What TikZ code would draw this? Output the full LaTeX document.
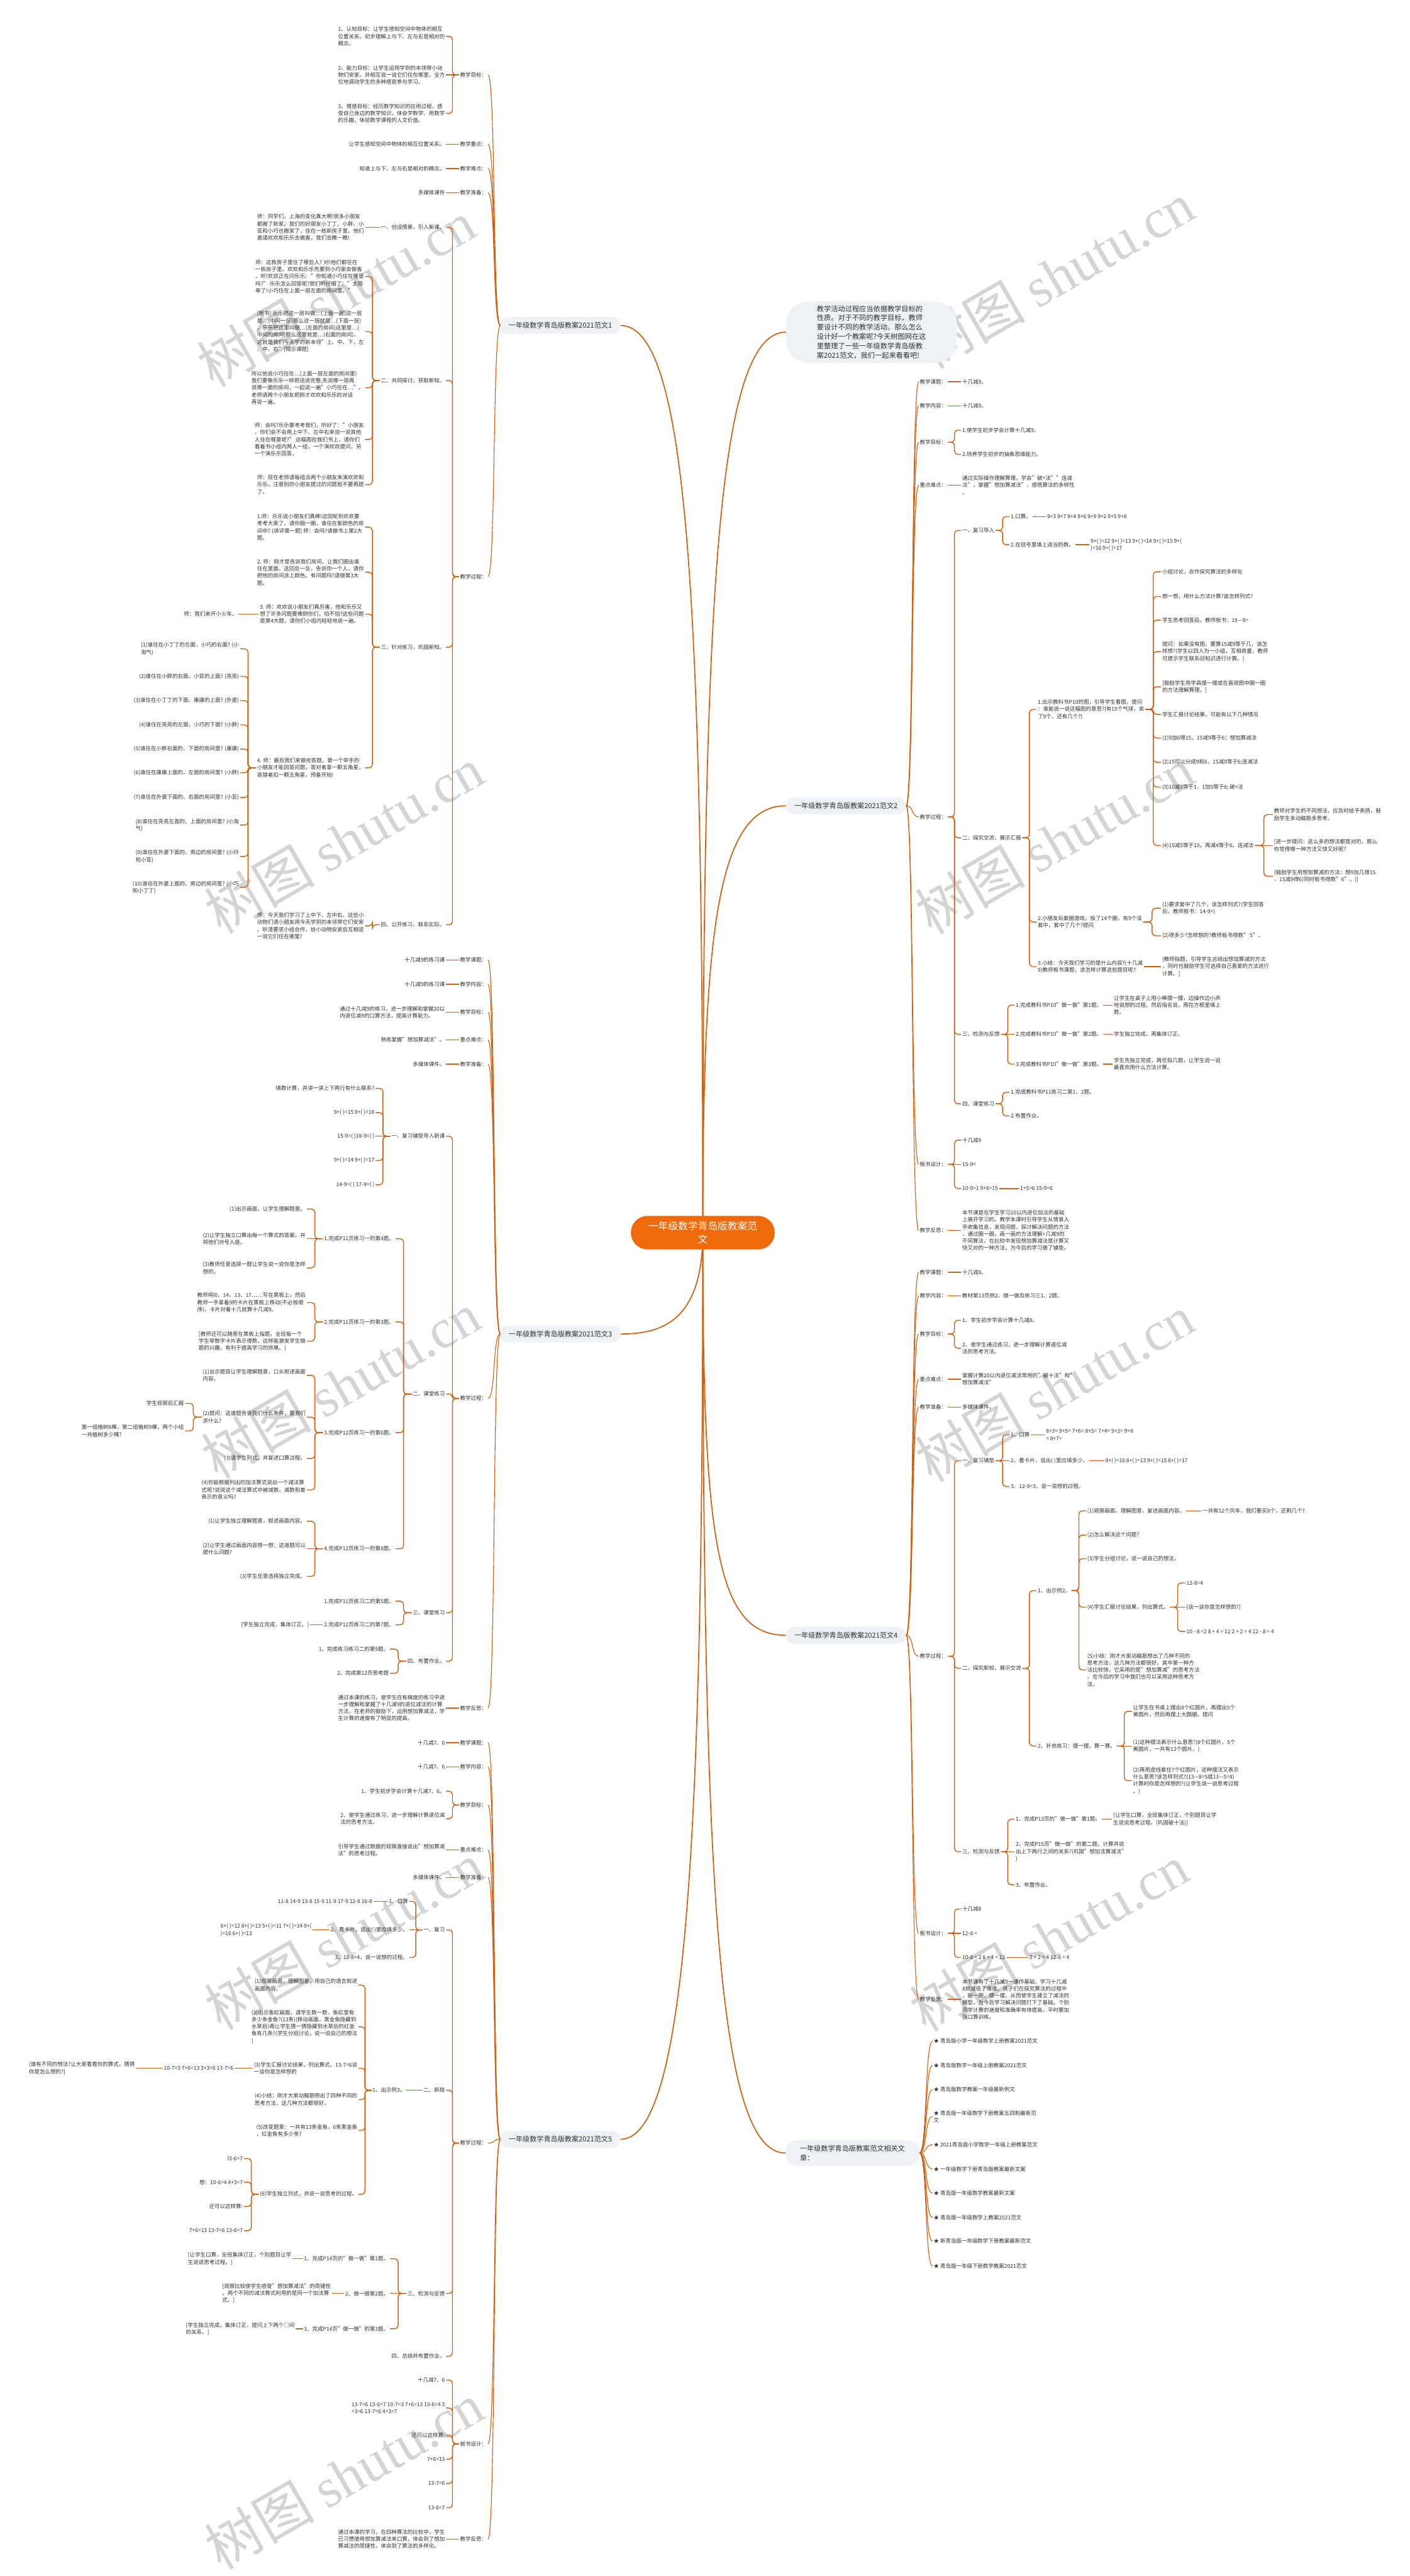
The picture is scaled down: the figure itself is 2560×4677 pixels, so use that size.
\documentclass[tikz,border=0pt]{standalone}
\usepackage{fontspec}
\setmainfont{Noto Sans CJK SC}
\newfontfamily\wmlatin{Liberation Serif}
\usetikzlibrary{calc}
\definecolor{lnk}{RGB}{205,98,20}
\definecolor{rootfill}{RGB}{240,106,12}
\definecolor{pillfill}{RGB}{238,241,245}
\definecolor{txt}{RGB}{48,48,48}
\definecolor{wmgray}{RGB}{212,212,212}

\begin{document}
\begin{tikzpicture}[x=1pt,y=-1pt]
  \def\fs{\fontsize{9.7}{12.9}\selectfont}
  \def\lk#1#2{\draw[br] let \p1=(#1.west),\p2=(#2.east) in (\p1) -- ({(\x1+\x2)/2},\y1) |- (\p2);}
  \def\rk#1#2{\draw[br] let \p1=(#1.east),\p2=(#2.west) in (\p1) -- ({(\x1+\x2)/2},\y1) |- (\p2);}
  \def\ls#1#2{\draw[br] (#1.west) -- (#2.east);}
  \def\rs#1#2{\draw[br] (#1.east) -- (#2.west);}
  \def\lc#1#2{\draw[cv] (#1.west) .. controls +(-14,0) and +(14,0) .. (#2.east);}
  \def\rc#1#2{\draw[cv] (#1.east) .. controls +(14,0) and +(-14,0) .. (#2.west);}

\tikzstyle{lt}=[anchor=east,align=left,inner xsep=2pt,inner ysep=1pt,text=txt,font=\fs]
\tikzstyle{rt}=[anchor=west,align=left,inner xsep=2pt,inner ysep=1pt,text=txt,font=\fs]
\tikzstyle{pill}=[fill=pillfill,rounded corners=15pt,text=txt,font=\fontsize{12.7}{17}\selectfont,minimum width=218pt,minimum height=31pt,inner sep=0pt]
\tikzstyle{br}=[draw=lnk,line width=1.6pt,rounded corners=6pt]
\tikzstyle{cv}=[draw=lnk,line width=1.3pt]
\tikzstyle{trunk}=[draw=lnk,line width=2pt]
\tikzstyle{wm}=[text=wmgray,rotate=30,font=\fontsize{100}{100}\selectfont]

\fill[white] (0,0) rectangle (2560,4677);
\useasboundingbox (0,0) rectangle (2560,4677);

% watermarks
\node[wm] at (610,533) {树图 {\wmlatin shutu.cn}};
\node[wm] at (624,1525) {树图 {\wmlatin shutu.cn}};
\node[wm] at (619,2515) {树图 {\wmlatin shutu.cn}};
\node[wm] at (624,3515) {树图 {\wmlatin shutu.cn}};
\node[wm] at (624,4495) {树图 {\wmlatin shutu.cn}};
\node[wm] at (1915,500) {树图 {\wmlatin shutu.cn}};
\node[wm] at (1915,1526) {树图 {\wmlatin shutu.cn}};
\node[wm] at (1915,2520) {树图 {\wmlatin shutu.cn}};
\node[wm] at (1904,3518) {树图 {\wmlatin shutu.cn}};

% first level
\node[pill] (b1) at (1017.5,591) {一年级数学青岛版教案2021范文1};
\node[pill] (b3) at (1017.5,2422) {一年级数学青岛版教案2021范文3};
\node[pill] (b5) at (1017.5,3884) {一年级数学青岛版教案2021范文5};
\node[pill] (b2) at (1536,1463) {一年级数学青岛版教案2021范文2};
\node[pill] (b4) at (1536,2969) {一年级数学青岛版教案2021范文4};
\node[pill,anchor=west,align=left,minimum width=243pt,minimum height=46pt,rounded corners=22pt] (rel) at (1426,3909) {一年级数学青岛版教案范文相关文\\章：};
\node[fill=pillfill,rounded corners=40pt,anchor=west,align=left,text=txt,font=\fontsize{12.8}{17}\selectfont,inner xsep=56pt,inner ysep=7pt] (intro) at (1427,603) {教学活动过程应当依据教学目标的\\性质。对于不同的教学目标，教师\\要设计不同的教学活动。那么怎么\\设计好一个教案呢?今天树图网在这\\里整理了一些一年级数学青岛版教\\案2021范文，我们一起来看看吧!};

\coordinate (rc) at (1276,2238);
\draw[trunk] (rc) .. controls (1276,1100) and (1250,591) .. (b1.east);
\draw[trunk] (rc) .. controls (1276,2400) and (1200,2422) .. (b3.east);
\draw[trunk] (rc) .. controls (1276,3300) and (1250,3884) .. (b5.east);
\draw[trunk] (rc) .. controls (1276,1100) and (1300,603) .. (intro.west);
\draw[trunk] (rc) .. controls (1276,1700) and (1300,1463) .. (b2.west);
\draw[trunk] (rc) .. controls (1276,2800) and (1300,2969) .. (b4.west);
\draw[trunk] (rc) .. controls (1276,3400) and (1300,3909) .. (rel.west);
\node[fill=rootfill,rounded corners=30pt,text=white,align=center,font=\fontsize{18}{24}\selectfont,minimum width=261pt,minimum height=61pt] (root) at (1276,2238) {一年级数学青岛版教案范\\文};

% ---- 范文1
\node[lt] (b1a) at (886,136) {教学目标：};
\node[lt] (b1b) at (886,262) {教学重点：};
\node[lt] (b1c) at (886,306) {教学难点：};
\node[lt] (b1d) at (886,350) {教学准备：};
\node[lt] (b1e) at (886,1047) {教学过程：};
\lc{b1}{b1a} \lc{b1}{b1b} \lc{b1}{b1c} \lc{b1}{b1d} \lc{b1}{b1e}
\node[lt] (b1a1) at (810,66) {1、认知目标：让学生感知空间中物体的相互\\位置关系。初步理解上与下、左与右是相对的\\概念。};
\node[lt] (b1a2) at (810,136) {2、能力目标：让学生运用学到的本领带小动\\物们安家。并相互说一说它们住在哪里，全方\\位地调动学生的多种感官参与学习。};
\node[lt] (b1a3) at (810,206) {3、情感目标：经历数学知识的应用过程，感\\受自己身边的数学知识，体会学数学、用数学\\的乐趣，体验数学课程的人文价值。};
\lk{b1a}{b1a1} \ls{b1a}{b1a2} \lk{b1a}{b1a3}
\node[lt] (b1b1) at (810,262) {让学生感知空间中物体的相互位置关系。};
\node[lt] (b1c1) at (810,306) {知道上与下、左与右是相对的概念。};
\node[lt] (b1d1) at (810,350) {多媒体课件};
\ls{b1b}{b1b1} \ls{b1c}{b1c1} \ls{b1d}{b1d1}
\node[lt] (b1e1) at (810,413) {一、创设情景，引入新课。};
\node[lt] (b1e2) at (810,691) {二、共同探讨，获取新知。};
\node[lt] (b1e3) at (810,1175) {三、针对练习，巩固新知。};
\node[lt] (b1e4) at (810,1679) {四、公开练习，联系实际。};
\lk{b1e}{b1e1} \lk{b1e}{b1e2} \lk{b1e}{b1e3} \lk{b1e}{b1e4}
\node[lt] (b1e1a) at (663,413) {师：同学们，上海的变化真大啊!很多小朋友\\都搬了新家。我们的好朋友小丁丁、小胖、小\\亚和小巧也搬家了，住在一栋新房子里。他们\\邀请欢欢和乐乐去做客，我们去瞧一瞧!};
\ls{b1e1}{b1e1a}
\node[lt] (b1e2a) at (663,502) {师：这栋房子里住了哪些人? 对!他们都住在\\一栋房子里。欢欢和乐乐先要到小巧家去做客\\。听!欢欢正在问乐乐："你知道小巧住在哪里\\吗?" 乐乐怎么回答呢?我们听仔细了："太简\\单了!小巧住在上面一层左面的房间里。"};
\node[lt] (b1e2b) at (663,602) {[板书] 乐乐把这一层叫做…(上面一层)这一层\\是…(中间一层)那么这一层就是…(下面一层)\\。乐乐把这里叫做…(左面的房间)这里是…(\\中间的房间)那么这里就是…(右面的房间)。\\这就是我们今天学的新本领"上、中、下，左\\、中、右"[揭示课题]};
\node[lt] (b1e2c) at (663,704) {所以他说小巧住在…(上面一层左面的房间里)\\我们要像乐乐一样把话说完整,先说哪一层再\\说哪一面的房间，一起说一遍"小巧住在…"。\\ 老师请两个小朋友把刚才欢欢和乐乐的对话\\再说一遍。};
\node[lt] (b1e2d) at (663,798) {师：会吗?乐乐要考考我们，听好了："小朋友\\，你们会不会用上中下、左中右来说一说其他\\人住在哪里呢?" 这幅图在我们书上，请你们\\看着书小组内两人一组，一个演欢欢提问，另\\一个演乐乐回答。};
\node[lt] (b1e2e) at (663,880) {师：现在老师请每组派两个小朋友来演欢欢和\\乐乐。注意别的小朋友提过的问题就不要再提\\了。};
\lk{b1e2}{b1e2a} \lk{b1e2}{b1e2b} \lk{b1e2}{b1e2c} \lk{b1e2}{b1e2d} \lk{b1e2}{b1e2e}
\node[lt] (b1e3a) at (663,957) {1.师：乐乐说小朋友们真棒!这回轮到欢欢要\\考考大家了。请你圈一圈，谁住在紫颜色的房\\间中? (讲评第一题) 师：会吗?请做书上第2大\\题。};
\node[lt] (b1e3b) at (663,1039) {2. 师：刚才是告诉我们房间，让我们圈出谁\\住在里面。这回反一反，告诉你一个人，请你\\把他的房间涂上颜色。有问题吗?请做第3大\\题。};
\node[lt] (b1e3c) at (663,1115) {3. 师：欢欢说小朋友们真厉害，他和乐乐又\\想了许多问题要难倒你们，怕不怕?这些问题\\是第4大题，请你们小组内轻轻地说一遍。};
\node[lt] (b1e3d) at (663,1394) {4. 师：最后我们来做抢答题。第一个举手的\\小朋友才能回答问题，答对者拿一颗五角星，\\答错者扣一颗五角星，预备开始!};
\lk{b1e3}{b1e3a} \lk{b1e3}{b1e3b} \lk{b1e3}{b1e3c} \lk{b1e3}{b1e3d}
\node[lt] (b1e3c1) at (433,1115) {师：我们来开小火车。};
\ls{b1e3c}{b1e3c1}
\node[lt] (q1) at (436,1178) {(1)谁住在小丁丁的左面，小巧的右面? (小\\淘气)};
\node[lt] (q2) at (436,1228) {(2)谁住在小胖的右面，小亚的上面? (亮亮)};
\node[lt] (q3) at (436,1272) {(3)谁住在小丁丁的下面，康康的上面? (外婆)};
\node[lt] (q4) at (436,1316) {(4)谁住在亮亮的左面，小巧的下面? (小胖)};
\node[lt] (q5) at (436,1360) {(5)谁住在小胖右面的、下面的房间里? (康康)};
\node[lt] (q6) at (436,1403) {(6)谁住在康康上面的、左面的房间里? (小胖)};
\node[lt] (q7) at (436,1448) {(7)谁住在外婆下面的、右面的房间里? (小亚)};
\node[lt] (q8) at (436,1498) {(8)谁住在亮亮左面的、上面的房间里? (小淘\\气)};
\node[lt] (q9) at (436,1555) {(9)谁住在外婆下面的、旁边的房间里? (小玲\\和小亚)};
\node[lt] (q10) at (436,1611) {(10)谁住在外婆上面的、旁边的房间里? (小巧\\和小丁丁)};
\foreach \q in {q1,q2,q3,q4,q5,q6,q7,q8,q9,q10} {\lk{b1e3d}{\q}}
\node[lt] (b1e4a) at (663,1681) {师：今天我们学习了上中下、左中右。这些小\\动物们请小朋友用今天学到的本领带它们安家\\。听清要求小组合作，给小动物安家后互相说\\一说它们住在哪里?};
\lk{b1e4}{b1e4a}

% ---- 范文3
\node[lt] (b3a) at (886,1743) {教学课题：};
\node[lt] (b3b) at (886,1787) {教学内容：};
\node[lt] (b3c) at (886,1838) {教学目标：};
\node[lt] (b3d) at (886,1888) {重点难点：};
\node[lt] (b3e) at (886,1932) {教学准备：};
\node[lt] (b3f) at (886,2539) {教学过程：};
\node[lt] (b3g) at (886,3101) {教学反思：};
\lc{b3}{b3a} \lc{b3}{b3b} \lc{b3}{b3c} \lc{b3}{b3d} \lc{b3}{b3e} \lc{b3}{b3f} \lc{b3}{b3g}
\node[lt] (b3a1) at (810,1743) {十几减9的练习课};
\node[lt] (b3b1) at (810,1787) {十几减9的练习课};
\node[lt] (b3c1) at (810,1838) {通过十几减9的练习，进一步理解和掌握20以\\内退位减9的口算方法，提高计算能力。};
\node[lt] (b3d1) at (810,1888) {熟练掌握"想加算减法"。};
\node[lt] (b3e1) at (810,1932) {多媒体课件。};
\ls{b3a}{b3a1} \ls{b3b}{b3b1} \ls{b3c}{b3c1} \ls{b3d}{b3d1} \ls{b3e}{b3e1}
\node[lt] (b3f1) at (810,2063) {一、复习铺垫导入新课};
\node[lt] (b3f2) at (810,2531) {二、课堂练习};
\node[lt] (b3f3) at (810,2928) {三、课堂练习};
\node[lt] (b3f4) at (810,3016) {四、布置作业。};
\lk{b3f}{b3f1} \lk{b3f}{b3f2} \lk{b3f}{b3f3} \lk{b3f}{b3f4}
\node[lt] (b3g1) at (810,3101) {通过本课的练习，使学生在有梯度的练习中进\\一步理解和掌握了十几减9的退位减法的计算\\方法，在老师的鼓励下，运用想加算减法，学\\生计算的速度有了明显的提高。};
\ls{b3g}{b3g1}
\node[lt] (r1) at (682,1976) {填数计算，并讲一讲上下两行有什么联系?};
\node[lt] (r2) at (682,2020) {9+( )=15 9+( )=18};
\node[lt] (r3) at (682,2063) {15-9=( )18-9=( )};
\node[lt] (r4) at (682,2107) {9+( )=14 9+( )=17};
\node[lt] (r5) at (682,2151) {14-9=( ) 17-9=( )};
\lk{b3f1}{r1} \lk{b3f1}{r2} \ls{b3f1}{r3} \lk{b3f1}{r4} \lk{b3f1}{r5}
\node[lt] (b3f2a) at (718,2249) {1.完成P11页练习一的第4题。};
\node[lt] (b3f2b) at (718,2400) {2.完成P11页练习一的第3题。};
\node[lt] (b3f2c) at (718,2601) {3.完成P12页练习一的第6题。};
\node[lt] (b3f2d) at (718,2812) {4.完成P12页练习一的第8题。};
\lk{b3f2}{b3f2a} \lk{b3f2}{b3f2b} \lk{b3f2}{b3f2c} \lk{b3f2}{b3f2d}
\node[lt] (b3f2a1) at (557,2195) {(1)出示画面，让学生理解题意。};
\node[lt] (b3f2a2) at (557,2249) {(2)让学生独立口算出每一个算式的答案，并\\将他们对号入座。};
\node[lt] (b3f2a3) at (557,2302) {(3)教师任意选择一题让学生说一说你是怎样\\想的。};
\lk{b3f2a}{b3f2a1} \ls{b3f2a}{b3f2a2} \lk{b3f2a}{b3f2a3}
\node[lt] (b3f2b1) at (557,2365) {教师将l0、14、13、17……写在黑板上，然后\\教师一手拿着9的卡片在黑板上移动(不必按顺\\序)，卡片对着十几就算十几减9。};
\node[lt] (b3f2b2) at (557,2435) {[教师还可以随意在黑板上指题，全班每一个\\学生举数字卡片表示得数，这样能激发学生做\\题的兴趣，有利于提高学习的效果。]};
\lk{b3f2b}{b3f2b1} \lk{b3f2b}{b3f2b2}
\node[lt] (b3f2c1) at (557,2497) {(1)出示题目让学生理解题意，口头叙述画面\\内容。};
\node[lt] (b3f2c2) at (557,2573) {(2)提问：这道题告诉我们什么条件，要我们\\求什么?};
\node[lt] (b3f2c3) at (557,2648) {(3)请学生列式，并复述口算过程。};
\node[lt] (b3f2c4) at (557,2705) {(4)你能根据列出的加法算式说出一个减法算\\式呢?说说这个减法算式中被减数、减数和差\\表示的意义吗?};
\lk{b3f2c}{b3f2c1} \lk{b3f2c}{b3f2c2} \lk{b3f2c}{b3f2c3} \lk{b3f2c}{b3f2c4}
\node[lt] (b3f2c2a) at (336,2548) {学生观察后汇报};
\node[lt] (b3f2c2b) at (336,2598) {第一组植树8棵，第二组植树9棵，两个小组\\一共植树多少棵?};
\lk{b3f2c2}{b3f2c2a} \lk{b3f2c2}{b3f2c2b}
\node[lt] (b3f2d1) at (557,2762) {(1)让学生独立理解题意，叙述画面内容。};
\node[lt] (b3f2d2) at (557,2812) {(2)让学生通过画面内容想一想：这道题可以\\提什么问题?};
\node[lt] (b3f2d3) at (557,2862) {(3)学生任意选择独立完成。};
\lk{b3f2d}{b3f2d1} \ls{b3f2d}{b3f2d2} \lk{b3f2d}{b3f2d3}
\node[lt] (b3f3a) at (718,2907) {1.完成P11页练习二的第5题。};
\node[lt] (b3f3b) at (718,2950) {2.完成P12页练习二的第7题。};
\lk{b3f3}{b3f3a} \lk{b3f3}{b3f3b}
\node[lt] (b3f3b1) at (563,2950) {[学生独立完成，集体订正。]};
\ls{b3f3b}{b3f3b1}
\node[lt] (b3f4a) at (708,2994) {1、完成练习练习二的第9题。};
\node[lt] (b3f4b) at (708,3038) {2、完成第12页思考题};
\lk{b3f4}{b3f4a} \lk{b3f4}{b3f4b}

% ---- 范文5
\node[lt] (b5a) at (886,3164) {教学课题：};
\node[lt] (b5b) at (886,3208) {教学内容：};
\node[lt] (b5c) at (886,3277) {教学目标：};
\node[lt] (b5d) at (886,3359) {重点难点：};
\node[lt] (b5e) at (886,3409) {教学准备：};
\node[lt] (b5f) at (886,3891) {教学过程：};
\node[lt] (b5g) at (886,4437) {板书设计：};
\node[lt] (b5h) at (886,4610) {教学反思：};
\lc{b5}{b5a} \lc{b5}{b5b} \lc{b5}{b5c} \lc{b5}{b5d} \lc{b5}{b5e} \lc{b5}{b5f} \lc{b5}{b5g} \lc{b5}{b5h}
\node[lt] (b5a1) at (810,3164) {十几减7、6};
\node[lt] (b5b1) at (810,3208) {十几减7、6};
\node[lt] (b5c1) at (810,3252) {1、学生初步学会计算十几减7、6。};
\node[lt] (b5c2) at (810,3302) {2、使学生通过练习，进一步理解计算退位减\\法的思考方法。};
\node[lt] (b5d1) at (810,3359) {引导学生通过数据的观察直接说出"想加算减\\法"的思考过程。};
\node[lt] (b5e1) at (810,3409) {多媒体课件。};
\ls{b5a}{b5a1} \ls{b5b}{b5b1} \lk{b5c}{b5c1} \lk{b5c}{b5c2} \ls{b5d}{b5d1} \ls{b5e}{b5e1}
\node[lt] (b5f1) at (810,3504) {一、复习};
\node[lt] (b5f2) at (810,3795) {二、新授};
\node[lt] (b5f3) at (810,4164) {三、检测与反馈};
\node[lt] (b5f4) at (810,4278) {四、总结并布置作业。};
\lk{b5f}{b5f1} \lk{b5f}{b5f2} \lk{b5f}{b5f3} \lk{b5f}{b5f4}
\node[lt] (b5f1a) at (743,3452) {1、口算};
\node[lt] (b5f1b) at (743,3504) {2、看卡片，说出( )里应填多少。};
\node[lt] (b5f1c) at (743,3554) {3、12-8=4，说一说想的过程。};
\lk{b5f1}{b5f1a} \ls{b5f1}{b5f1b} \lk{b5f1}{b5f1c}
\node[lt] (b5f1a1) at (678,3452) {11-8 14-9 13-8 15-9 11-9 17-9 12-8 16-8};
\node[lt] (b5f1b1) at (568,3504) {6+( )=12 8+( )=13 5+( )=11 7+( )=14 9+(\\)=16 6+( )=13};
\ls{b5f1a}{b5f1a1} \ls{b5f1b}{b5f1b1}
\node[lt] (b5f2a) at (738,3795) {1、出示例3。};
\ls{b5f2}{b5f2a}
\node[lt] (s1) at (651,3604) {(1)观察画面，理解图意，用自己的语言叙述\\画面内容。};
\node[lt] (s2) at (651,3680) {(2)出示鱼缸画面，请学生数一数，鱼缸里有\\多少条金鱼?(13条)(移动画面，黑金鱼隐藏到\\水草后)再让学生猜一猜隐藏到水草后的红金\\鱼有几条?(学生分组讨论，说一说自己的想法\\)};
\node[lt] (s3) at (651,3755) {(3)学生汇报讨论结果，列出算式。13-7=6谈\\一谈你是怎样想的};
\node[lt] (s4) at (651,3812) {(4)小结：刚才大家动脑筋想出了四种不同的\\思考方法，这几种方法都很好。};
\node[lt] (s5) at (651,3868) {(5)改变题意：一共有13条金鱼，6条黑金鱼\\，红金鱼有多少条?};
\node[lt] (s6) at (651,3984) {(6)学生独立列式，并说一说思考的过程。};
\foreach \s in {s1,s2,s3,s4,s5,s6} {\lk{b5f2a}{\s}}
\node[lt] (s3a) at (426,3755) {10-7=3 7+6=13 3+3=6 13-7=6};
\node[lt] (s3b) at (247,3755) {[谁有不同的想法?让大家看看你的算式，猜猜\\你是怎么想的?]};
\ls{s3}{s3a} \ls{s3a}{s3b}
\node[lt] (s6a) at (443,3919) {l3-6=7};
\node[lt] (s6b) at (443,3962) {想：10-6=4 4+3=7};
\node[lt] (s6c) at (443,4006) {还可以这样算:};
\node[lt] (s6d) at (443,4050) {7+6=13 13-7=6 13-6=7};
\lk{s6}{s6a} \lk{s6}{s6b} \lk{s6}{s6c} \lk{s6}{s6d}
\node[lt] (b5f3a) at (708,4101) {1、完成P14页的"做一做"第1题。};
\node[lt] (b5f3b) at (708,4164) {2、做一做第2题。};
\node[lt] (b5f3c) at (708,4228) {3、完成P14页"做一做"的第3题。};
\lk{b5f3}{b5f3a} \ls{b5f3}{b5f3b} \lk{b5f3}{b5f3c}
\node[lt] (b5f3a1) at (531,4101) {[让学生口算，全班集体订正，个别题目让学\\生说说思考过程。]};
\node[lt] (b5f3b1) at (603,4164) {[观察比较使学生感受"想加算减法"的简捷性\\。两个不同的减法算式利用的是同一个加法算\\式。]};
\node[lt] (b5f3c1) at (537,4228) {[学生独立完成，集体订正，提问上下两个□间\\的关系。]};
\ls{b5f3a}{b5f3a1} \ls{b5f3b}{b5f3b1} \ls{b5f3c}{b5f3c1}
\node[lt] (b5g1) at (810,4321) {十几减7、6};
\node[lt] (b5g2) at (810,4372) {13-7=6 13-6=7 10-7=3 7+6=13 10-6=4 3\\+3=6 13-7=6 4+3=7};
\node[lt] (b5g3) at (810,4422) {还可以这样算:};
\node[lt] (b5g4) at (810,4465) {7+6=13};
\node[lt] (b5g5) at (810,4509) {13-7=6};
\node[lt] (b5g6) at (810,4553) {13-6=7};
\foreach \g in {b5g1,b5g2,b5g3,b5g4,b5g5,b5g6} {\lk{b5g}{\g}}
\node[lt] (b5h1) at (810,4610) {通过本课的学习，在四种算法的比较中，学生\\已习惯使用想加算减法来口算，体会到了想加\\算减法的简捷性，体会到了算法的多样化。};
\ls{b5h}{b5h1}

% ---- 范文2
\node[rt] (b2a) at (1668,693) {教学课题：};
\node[rt] (b2b) at (1668,737) {教学内容：};
\node[rt] (b2c) at (1668,803) {教学目标：};
\node[rt] (b2d) at (1668,881) {重点难点：};
\node[rt] (b2e) at (1668,1483) {教学过程：};
\node[rt] (b2f) at (1668,2114) {板书设计：};
\node[rt] (b2g) at (1668,2234) {教学反思：};
\rc{b2}{b2a} \rc{b2}{b2b} \rc{b2}{b2c} \rc{b2}{b2d} \rc{b2}{b2e} \rc{b2}{b2f} \rc{b2}{b2g}
\node[rt] (b2a1) at (1745,693) {十几减9。};
\node[rt] (b2b1) at (1745,737) {十几减9。};
\node[rt] (b2c1) at (1745,781) {1.使学生初步学会计算十几减9。};
\node[rt] (b2c2) at (1745,825) {2.培养学生初步的抽象思维能力。};
\node[rt] (b2d1) at (1745,881) {通过实际操作理解算理，学会"破+法""连减\\法"，掌握"想加算减法"，感悟算法的多样性\\。};
\rs{b2a}{b2a1} \rs{b2b}{b2b1} \rk{b2c}{b2c1} \rk{b2c}{b2c2} \rs{b2d}{b2d1}
\node[rt] (b2e1) at (1745,963) {一、复习导入};
\node[rt] (b2e2) at (1745,1521) {二、探究交流，展示汇报};
\node[rt] (b2e3) at (1745,1878) {三、检测与反馈};
\node[rt] (b2e4) at (1745,2004) {四、课堂练习};
\rk{b2e}{b2e1} \rk{b2e}{b2e2} \rk{b2e}{b2e3} \rk{b2e}{b2e4}
\node[rt] (b2e1a) at (1833,938) {1.口算。};
\node[rt] (b2e1b) at (1833,989) {2.在括号里填上适当的数。};
\rk{b2e1}{b2e1a} \rk{b2e1}{b2e1b}
\node[rt] (b2e1a1) at (1899,938) {9+3 9+7 9+4 9+6 9+9 9+2 9+5 9+8};
\node[rt] (b2e1b1) at (1978,989) {9+( )=12 9+( )=13 9+( )=14 9+( )=15 9+(\\)=16 9+( )=17};
\rs{b2e1a}{b2e1a1} \rs{b2e1b}{b2e1b1}
\node[rt] (b2e2a) at (1882,1288) {1.出示教科书P10的图，引导学生看图，提问\\：谁能说一说这幅图的意思?(有15个气球，卖\\了9个，还有几个?)};
\node[rt] (b2e2b) at (1882,1674) {2.小朋友玩套圈游戏，投了14个圈，有9个没\\套中，套中了几个?提问};
\node[rt] (b2e2c) at (1882,1755) {3.小结：今天我们学习的是什么内容?(十几减\\9)教师板书课题，该怎样计算这些题目呢?};
\rk{b2e2}{b2e2a} \rk{b2e2}{b2e2b} \rk{b2e2}{b2e2c}
\node[rt] (t1) at (2108,1038) {小组讨论，合作探究算法的多样化};
\node[rt] (t2) at (2108,1083) {想一想，用什么方法计算?该怎样列式?};
\node[rt] (t3) at (2108,1126) {学生思考回答后，教师板书：15—9=};
\node[rt] (t4) at (2108,1183) {提问：如果没有图，要算15减9等于几，该怎\\样想?(学生以四人为一小组，互相商量，教师\\可提示学生联系旧知识进行计算。)};
\node[rt] (t5) at (2108,1247) {[鼓励学生用学具摆一摆或在直观图中圈一圈\\的方法理解算理。]};
\node[rt] (t6) at (2108,1297) {学生汇报讨论结果，可能有以下几种情况};
\node[rt] (t7) at (2108,1340) {(1)9加6得15，15减9等于6；想加算减法};
\node[rt] (t8) at (2108,1384) {(2)15可以分成9和6，15减9等于6;连减法};
\node[rt] (t9) at (2108,1429) {(3)10减9等于1，1加5等于6; 破+法};
\node[rt] (t10) at (2108,1535) {(4)15减5等于10，再减4等于6。连减法};
\foreach \t in {t1,t2,t3,t4,t5,t6,t7,t8,t9,t10} {\rk{b2e2a}{\t}}
\node[rt] (t10a) at (2311,1479) {教师对学生的不同想法，应及时给予表扬，鼓\\励学生多动脑筋多思考。};
\node[rt] (t10b) at (2311,1535) {[进一步提问：这么多的想法都是对的，那么\\你觉得哪一种方法又快又好呢?};
\node[rt] (t10c) at (2311,1591) {(鼓励学生用想加算减的方法：想9加几得15\\，15减9得6)同时板书得数"6"。)]};
\rk{t10}{t10a} \rs{t10}{t10b} \rk{t10}{t10c}
\node[rt] (b2e2b1) at (2108,1649) {(1)要求套中了几个，该怎样列式?(学生回答\\后，教师板书：14-9=)};
\node[rt] (b2e2b2) at (2108,1699) {(2)得多少?怎样想的?教师板书得数" 5"。};
\rk{b2e2b}{b2e2b1} \rk{b2e2b}{b2e2b2}
\node[rt] (b2e2c1) at (2108,1755) {[教师指题，引导学生总结出想加算减的方法\\，同时也鼓励学生可选择自己喜爱的方法进行\\计算。]};
\rs{b2e2c}{b2e2c1}
\node[rt] (b2e3a) at (1842,1825) {1.完成教科书P10"做一做"第1题。};
\node[rt] (b2e3b) at (1842,1878) {2.完成教科书P10"做一做"第2题。};
\node[rt] (b2e3c) at (1842,1932) {3.完成教科书P10"做一做"第3题。};
\rk{b2e3}{b2e3a} \rs{b2e3}{b2e3b} \rk{b2e3}{b2e3c}
\node[rt] (b2e3a1) at (2020,1825) {让学生在桌子上用小棒摆一摆，边操作边小声\\地说想的过程。然后指名说，再在方框里填上\\数。};
\node[rt] (b2e3b1) at (2020,1878) {学生独立完成，再集体订正。};
\node[rt] (b2e3c1) at (2020,1932) {学生先独立完成，再任指几题，让学生说一说\\最喜欢用什么方法计算。};
\rs{b2e3a}{b2e3a1} \rs{b2e3b}{b2e3b1} \rs{b2e3c}{b2e3c1}
\node[rt] (b2e4a) at (1833,1983) {1.完成教科书P11练习二第1、2题。};
\node[rt] (b2e4b) at (1833,2026) {2.布置作业。};
\rk{b2e4}{b2e4a} \rk{b2e4}{b2e4b}
\node[rt] (b2f1) at (1745,2070) {十几减9};
\node[rt] (b2f2) at (1745,2114) {15-9=};
\node[rt] (b2f3) at (1745,2158) {10-9=1 9+6=15};
\rk{b2f}{b2f1} \rs{b2f}{b2f2} \rk{b2f}{b2f3}
\node[rt] (b2f3a) at (1850,2158) {1+5=6 15-9=6};
\rs{b2f3}{b2f3a}
\node[rt] (b2g1) at (1745,2234) {本节课是在学生学习20以内进位加法的基础\\上展开学习的。教学本课时引导学生从情景入\\手收集信息，发现问题，探讨解决问题的方法\\，通过圈一圈，画一画的方法理解+几减9的\\不同算法，在比较中发现想加算减法是计算又\\快又对的一种方法，为今后的学习做了铺垫。};
\rs{b2g}{b2g1}

% ---- 范文4
\node[rt] (b4a) at (1668,2310) {教学课题：};
\node[rt] (b4b) at (1668,2353) {教学内容：};
\node[rt] (b4c) at (1668,2422) {教学目标：};
\node[rt] (b4d) at (1668,2504) {重点难点：};
\node[rt] (b4e) at (1668,2555) {教学准备：};
\node[rt] (b4f) at (1668,3007) {教学过程：};
\node[rt] (b4g) at (1668,3510) {板书设计：};
\node[rt] (b4h) at (1668,3630) {教学反思：};
\rc{b4}{b4a} \rc{b4}{b4b} \rc{b4}{b4c} \rc{b4}{b4d} \rc{b4}{b4e} \rc{b4}{b4f} \rc{b4}{b4g} \rc{b4}{b4h}
\node[rt] (b4a1) at (1745,2310) {十几减8。};
\node[rt] (b4b1) at (1745,2353) {教材第13页例2、做一做及练习三1、2题。};
\node[rt] (b4c1) at (1745,2397) {1、学生初步学会计算十几减8。};
\node[rt] (b4c2) at (1745,2448) {2、使学生通过练习，进一步理解计算退位减\\法的思考方法。};
\node[rt] (b4d1) at (1745,2504) {掌握计算20以内退位减法常用的"破十法"和"\\想加算减法"};
\node[rt] (b4e1) at (1745,2555) {多媒体课件。};
\rs{b4a}{b4a1} \rs{b4b}{b4b1} \rk{b4c}{b4c1} \rk{b4c}{b4c2} \rs{b4d}{b4d1} \rs{b4e}{b4e1}
\node[rt] (b4f1) at (1745,2652) {一、复习铺垫};
\node[rt] (b4f2) at (1745,3029) {二、探究新知，展示交流};
\node[rt] (b4f3) at (1745,3362) {三、检测与反馈};
\rk{b4f}{b4f1} \rk{b4f}{b4f2} \rk{b4f}{b4f3}
\node[rt] (b4f1a) at (1833,2605) {1、口算};
\node[rt] (b4f1b) at (1833,2652) {2、看卡片，说出( )里应填多少。};
\node[rt] (b4f1c) at (1833,2699) {3、12-9=3，说一说想的过程。};
\rk{b4f1}{b4f1a} \rs{b4f1}{b4f1b} \rk{b4f1}{b4f1c}
\node[rt] (b4f1a1) at (1897,2605) {8+3= 9+5= 7+6= 8+5= 7+4= 9+2= 9+8\\= 8+7=};
\node[rt] (b4f1b1) at (2005,2652) {9+( )=16 8+( )=13 9+( )=15 8+( )=17};
\rs{b4f1a}{b4f1a1} \rs{b4f1b}{b4f1b1}
\node[rt] (b4f2a) at (1882,2888) {1、出示例2。};
\node[rt] (b4f2b) at (1882,3170) {2、补充练习：摆一摆，算一算。};
\rk{b4f2}{b4f2a} \rk{b4f2}{b4f2b}
\node[rt] (u1) at (1972,2743) {(1)观察画面，理解图意，复述画面内容。};
\node[rt] (u2) at (1972,2787) {(2)怎么解决这个问题?};
\node[rt] (u3) at (1972,2830) {(3)学生分组讨论，说一说自己的想法。};
\node[rt] (u4) at (1972,2918) {(4)学生汇报讨论结果，列出算式。};
\node[rt] (u5) at (1972,3032) {(5)小结：刚才大家动脑筋想出了几种不同的\\思考方法，这几种方法都很好。其中第一种方\\法比较快，它采用的是"想加算减"的思考方法\\。在今后的学习中我们也可以采用这种思考方\\法。};
\foreach \u in {u1,u2,u3,u4,u5} {\rk{b4f2a}{\u}}
\node[rt] (u1a) at (2181,2743) {一共有12个风车，我们要买8个，还剩几个?};
\rs{u1}{u1a}
\node[rt] (u4a) at (2152,2874) {12-8=4};
\node[rt] (u4b) at (2152,2918) {[谈一谈你是怎样想的?]};
\node[rt] (u4c) at (2152,2962) {10 - 8 =2 8 + 4 = 12 2 + 2 = 4 12 - 8 = 4};
\rk{u4}{u4a} \rs{u4}{u4b} \rk{u4}{u4c}
\node[rt] (v1) at (2055,3107) {让学生在书桌上摆出8个红圆片，再摆出5个\\黄圆片，然后再摆上大圆圈。提问};
\node[rt] (v2) at (2055,3170) {(1)这种摆法表示什么意思?(8个红圆片，5个\\黄圆片，一共有13个圆片。)};
\node[rt] (v3) at (2055,3233) {(2)再用虚线套住7个红圆片，这种摆法又表示\\什么意思?该怎样列式?(13—8=5或13—5=8)\\计算时你是怎样想的?(让学生说一说思考过程\\。)};
\rk{b4f2b}{v1} \rs{b4f2b}{v2} \rk{b4f2b}{v3}
\node[rt] (b4f3a) at (1842,3303) {1、完成P13页的"做一做"第1题。};
\node[rt] (b4f3b) at (1842,3362) {2、完成P15页"做一做"的第二题，计算并说\\出上下两行之间的关系?(巩固"想加法算减法"\\)};
\node[rt] (b4f3c) at (1842,3422) {3、布置作业。};
\rk{b4f3}{b4f3a} \rs{b4f3}{b4f3b} \rk{b4f3}{b4f3c}
\node[rt] (b4f3a1) at (2019,3303) {[让学生口算，全班集体订正，个别题目让学\\生说说思考过程。(巩固破十法)]};
\rs{b4f3a}{b4f3a1}
\node[rt] (b4g1) at (1745,3466) {十几减8};
\node[rt] (b4g2) at (1745,3510) {12-8 =};
\node[rt] (b4g3) at (1745,3554) {10-8 = 2 8 + 4 = 12};
\rk{b4g}{b4g1} \rs{b4g}{b4g2} \rk{b4g}{b4g3}
\node[rt] (b4g3a) at (1867,3554) {2 + 2 = 4 12-8 = 4};
\rs{b4g3}{b4g3a}
\node[rt] (b4h1) at (1745,3630) {本节课有了十几减9一课作基础，学习十几减\\8就减低了难度。孩子们在探究算法的过程中\\，圈一圈，摆一摆，从而使学生建立了减法的\\模型，为今后学习解决问题打下了基础。个别\\同学计算的速度和准确率有待提高，平时要加\\强口算训练。};
\rs{b4h}{b4h1}

% ---- 相关文章
\node[rt] (w1) at (1693,3706) {★ 青岛版小学一年级数学上册教案2021范文};
\node[rt] (w2) at (1693,3750) {★ 青岛版数学一年级上册教案2021范文};
\node[rt] (w3) at (1693,3794) {★ 青岛版数学教案一年级最新例文};
\node[rt] (w4) at (1693,3843) {★ 青岛版一年级数学下册教案五四制最新范\\文};
\node[rt] (w5) at (1693,3894) {★ 2021青岛版小学数学一年级上册教案范文};
\node[rt] (w6) at (1693,3938) {★ 一年级数学下册青岛版教案最新文案};
\node[rt] (w7) at (1693,3982) {★ 青岛版一年级数学教案最新文案};
\node[rt] (w8) at (1693,4026) {★ 青岛版一年级数学上教案2021范文};
\node[rt] (w9) at (1693,4069) {★ 新青岛版一年级数学下册教案最新范文};
\node[rt] (w10) at (1693,4114) {★ 青岛版一年级下册数学教案2021范文};
\foreach \w in {w1,w2,w3,w4,w5,w6,w7,w8,w9,w10} {\rc{rel}{\w}}
\end{tikzpicture}
\end{document}
